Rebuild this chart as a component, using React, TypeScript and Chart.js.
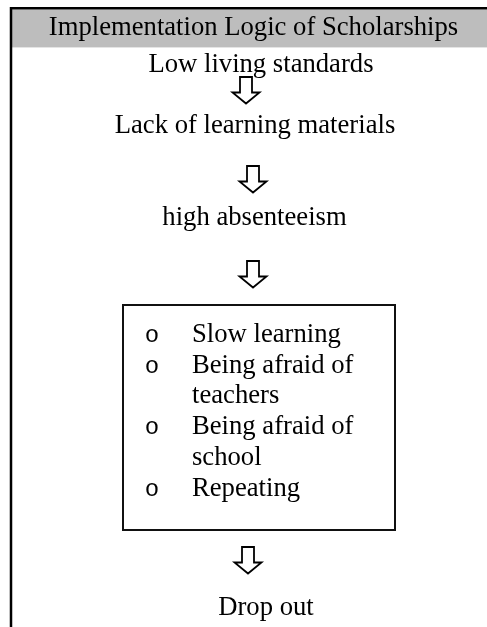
import React, { useEffect, useRef } from "react";
import { Chart, registerables } from "chart.js";

Chart.register(...registerables);

// ---------- content ----------
const title = "Implementation Logic of Scholarships";
const steps = ["Low living standards", "Lack of learning materials", "high absenteeism"];
const boxItems: string[][] = [
  ["Slow learning"],
  ["Being afraid of", "teachers"],
  ["Being afraid of", "school"],
  ["Repeating"],
];
const outcome = "Drop out";

// ---------- layout (page pixel coordinates) ----------
const W = 487;
const H = 627;
const FONT = "26.67px 'Liberation Serif', 'Times New Roman', serif";
const stepPos = [
  { x: 261, y: 72 },
  { x: 255, y: 133 },
  { x: 254.5, y: 225 },
];
const arrowPos = [
  { x: 246, y: 77 },
  { x: 253, y: 166 },
  { x: 253, y: 261 },
  { x: 248, y: 547 },
];
const outcomePos = { x: 266, y: 615 };
const box = { x0: 123, y0: 305, x1: 395, y1: 530 };
const bulletX = 152;
const itemX = 192;
const firstBaseline = 342;
const lineH = 30.7;

function flowPlugin() {
  return {
    id: "flow",
    afterDraw(chart: any) {
      const ctx: CanvasRenderingContext2D = chart.ctx;
      const sx = chart.scales.x;
      const sy = chart.scales.y;
      const px = (v: number) => sx.getPixelForValue(v);
      const py = (v: number) => sy.getPixelForValue(v);
      ctx.save();

      // header band
      ctx.fillStyle = "#bdbdbd";
      ctx.fillRect(px(12), py(9.5), px(W) - px(12), py(47) - py(9.5));
      ctx.fillStyle = "#e4e4e4";
      ctx.fillRect(px(12), py(47), px(W) - px(12), 1);

      // frame lines
      ctx.strokeStyle = "#000";
      ctx.lineWidth = 2.5;
      ctx.beginPath();
      ctx.moveTo(px(9.75), py(8.25));
      ctx.lineTo(px(W), py(8.25));
      ctx.moveTo(px(11), py(7));
      ctx.lineTo(px(11), py(H));
      ctx.stroke();

      ctx.fillStyle = "#000";
      ctx.font = FONT;
      ctx.textBaseline = "alphabetic";
      ctx.textAlign = "center";
      ctx.fillText(title, px(253.5), py(35));

      steps.forEach((s, i) => {
        ctx.fillText(s, px(stepPos[i].x), py(stepPos[i].y));
      });
      ctx.fillText(outcome, px(outcomePos.x), py(outcomePos.y));

      // arrows
      ctx.lineWidth = 1.8;
      ctx.strokeStyle = "#000";
      ctx.lineJoin = "miter";
      arrowPos.forEach((a) => {
        const cx = px(a.x);
        const top = py(a.y);
        const h = 26.5;
        const sw = 6;
        const hw = 13.5;
        const hh = 11;
        ctx.beginPath();
        ctx.moveTo(cx - sw, top);
        ctx.lineTo(cx + sw, top);
        ctx.lineTo(cx + sw, top + h - hh);
        ctx.lineTo(cx + hw, top + h - hh);
        ctx.lineTo(cx, top + h);
        ctx.lineTo(cx - hw, top + h - hh);
        ctx.lineTo(cx - sw, top + h - hh);
        ctx.closePath();
        ctx.fillStyle = "#fff";
        ctx.fill();
        ctx.stroke();
      });

      // box
      ctx.lineWidth = 2;
      ctx.strokeStyle = "#111";
      ctx.strokeRect(px(box.x0), py(box.y0), px(box.x1) - px(box.x0), py(box.y1) - py(box.y0));

      // bullet list
      ctx.fillStyle = "#000";
      ctx.textAlign = "left";
      let line = 0;
      boxItems.forEach((item) => {
        item.forEach((txt, j) => {
          const by = firstBaseline + line * lineH;
          if (j === 0) {
            ctx.font = "24px 'Liberation Mono', 'Courier New', monospace";
            ctx.textAlign = "center";
            ctx.fillText("o", px(bulletX), py(by));
            ctx.textAlign = "left";
            ctx.font = FONT;
          }
          ctx.fillText(txt, px(itemX), py(by));
          line++;
        });
      });

      ctx.restore();
    },
  };
}

export default function App() {
  const ref = useRef<HTMLCanvasElement | null>(null);
  useEffect(() => {
    document.body.style.margin = "0";
    document.body.style.background = "#fff";
    const canvas = ref.current!;
    const chart = new Chart(canvas, {
      type: "scatter",
      data: { datasets: [{ data: [], pointRadius: 0 }] },
      options: {
        responsive: false,
        animation: false,
        devicePixelRatio: 1,
        layout: { padding: 0 },
        plugins: { legend: { display: false }, tooltip: { enabled: false }, title: { display: false } },
        scales: {
          x: { type: "linear", min: 0, max: W, display: false },
          y: { type: "linear", min: 0, max: H, reverse: true, display: false },
        },
      },
      plugins: [flowPlugin()],
    });
    return () => chart.destroy();
  }, []);
  return (
    <div style={{ width: W, height: H, background: "#fff" }}>
      <canvas ref={ref} width={W} height={H} style={{ display: "block", width: W, height: H }} />
    </div>
  );
}
